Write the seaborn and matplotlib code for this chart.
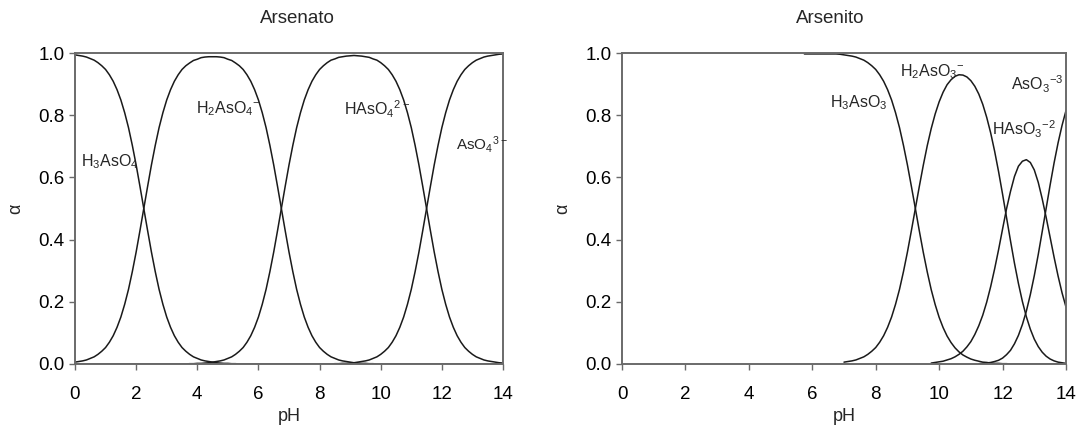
import numpy as np
import pandas as pd
import matplotlib
matplotlib.use("Agg")
import matplotlib.pyplot as plt
import seaborn as sns

nan = np.nan

# ---------------- Arsenato (pH 0..14, every 0.125) ----------------
ph_arsenato = [0.0, 0.125, 0.25, 0.375, 0.5, 0.625, 0.75, 0.875, 1.0, 1.125,
               1.25, 1.375, 1.5, 1.625, 1.75, 1.875, 2.0, 2.125, 2.25, 2.375,
               2.5, 2.625, 2.75, 2.875, 3.0, 3.125, 3.25, 3.375, 3.5, 3.625,
               3.75, 3.875, 4.0, 4.125, 4.25, 4.375, 4.5, 4.625, 4.75, 4.875,
               5.0, 5.125, 5.25, 5.375, 5.5, 5.625, 5.75, 5.875, 6.0, 6.125,
               6.25, 6.375, 6.5, 6.625, 6.75, 6.875, 7.0, 7.125, 7.25, 7.375,
               7.5, 7.625, 7.75, 7.875, 8.0, 8.125, 8.25, 8.375, 8.5, 8.625,
               8.75, 8.875, 9.0, 9.125, 9.25, 9.375, 9.5, 9.625, 9.75, 9.875,
               10.0, 10.125, 10.25, 10.375, 10.5, 10.625, 10.75, 10.875, 11.0,
               11.125, 11.25, 11.375, 11.5, 11.625, 11.75, 11.875, 12.0, 12.125,
               12.25, 12.375, 12.5, 12.625, 12.75, 12.875, 13.0, 13.125, 13.25,
               13.375, 13.5, 13.625, 13.75, 13.875, 14.0]

h3aso4 = [0.994, 0.992, 0.990, 0.987, 0.982, 0.977, 0.969, 0.959, 0.947, 0.930,
          0.909, 0.882, 0.849, 0.808, 0.760, 0.703, 0.640, 0.571, 0.500, 0.429,
          0.360, 0.297, 0.240, 0.192, 0.151, 0.118, 0.091, 0.070, 0.053, 0.041,
          0.031, 0.023, 0.018, 0.013, 0.010, 0.008, 0.006, 0.004, 0.003, 0.002,
          0.002, 0.001, 0.001] + [0.0] * 70

h2aso4 = [0.006, 0.008, 0.010, 0.013, 0.018, 0.023, 0.031, 0.041, 0.053, 0.070,
          0.091, 0.118, 0.151, 0.192, 0.240, 0.297, 0.360, 0.429, 0.500, 0.571,
          0.640, 0.703, 0.760, 0.808, 0.849, 0.882, 0.909, 0.930, 0.947, 0.959,
          0.968, 0.976, 0.980, 0.985, 0.987, 0.988, 0.988, 0.988, 0.987, 0.985,
          0.980, 0.976, 0.968, 0.959, 0.947, 0.930, 0.909, 0.882, 0.849, 0.808,
          0.760, 0.703, 0.640, 0.571, 0.500, 0.429, 0.360, 0.297, 0.240, 0.192,
          0.151, 0.118, 0.091, 0.070, 0.053, 0.041, 0.031, 0.023, 0.018, 0.013,
          0.010, 0.008, 0.006, 0.004, 0.003, 0.002, 0.002, 0.001,
          0.001] + [0.0] * 34

haso4 = [0.0] * 30 + [0.001, 0.001, 0.002, 0.002, 0.003, 0.004, 0.006, 0.008,
                      0.010, 0.013, 0.018, 0.023, 0.031, 0.041, 0.053, 0.070,
                      0.091, 0.118, 0.151, 0.192, 0.240, 0.297, 0.360, 0.429,
                      0.500, 0.571, 0.640, 0.703, 0.760, 0.808, 0.849, 0.882,
                      0.909, 0.930, 0.947, 0.959, 0.969, 0.977, 0.981, 0.986,
                      0.988, 0.990, 0.991, 0.992, 0.991, 0.990, 0.988, 0.986,
                      0.981, 0.977, 0.969, 0.959, 0.947, 0.930, 0.909, 0.882,
                      0.849, 0.808, 0.760, 0.703, 0.640, 0.571, 0.500, 0.429,
                      0.360, 0.297, 0.240, 0.192, 0.151, 0.118, 0.091, 0.070,
                      0.053, 0.041, 0.031, 0.023, 0.018, 0.013, 0.010, 0.008,
                      0.006, 0.004, 0.003]

aso4 = [0.0] * 68 + [0.001, 0.001, 0.002, 0.002, 0.003, 0.004, 0.006, 0.008,
                     0.010, 0.013, 0.018, 0.023, 0.031, 0.041, 0.053, 0.070,
                     0.091, 0.118, 0.151, 0.192, 0.240, 0.297, 0.360, 0.429,
                     0.500, 0.571, 0.640, 0.703, 0.760, 0.808, 0.849, 0.882,
                     0.909, 0.930, 0.947, 0.959, 0.969, 0.977, 0.982, 0.987,
                     0.990, 0.992, 0.994, 0.996, 0.997]

# ---------------- Arsenito (pH 5.75..14, every 0.125) ----------------
ph_arsenito = [5.75, 5.875, 6.0, 6.125, 6.25, 6.375, 6.5, 6.625, 6.75, 6.875,
               7.0, 7.125, 7.25, 7.375, 7.5, 7.625, 7.75, 7.875, 8.0, 8.125,
               8.25, 8.375, 8.5, 8.625, 8.75, 8.875, 9.0, 9.125, 9.25, 9.375,
               9.5, 9.625, 9.75, 9.875, 10.0, 10.125, 10.25, 10.375, 10.5,
               10.625, 10.75, 10.875, 11.0, 11.125, 11.25, 11.375, 11.5, 11.625,
               11.75, 11.875, 12.0, 12.125, 12.25, 12.375, 12.5, 12.625, 12.75,
               12.875, 13.0, 13.125, 13.25, 13.375, 13.5, 13.625, 13.75, 13.875,
               14.0]

h3aso3 = [0.997] * 9 + [0.996, 0.994, 0.992, 0.990, 0.987, 0.982, 0.977, 0.969,
                        0.959, 0.947, 0.930, 0.909, 0.882, 0.849, 0.808, 0.760,
                        0.703, 0.640, 0.571, 0.500, 0.428, 0.359, 0.296, 0.239,
                        0.191, 0.150, 0.117, 0.090, 0.069, 0.052, 0.039, 0.029,
                        0.022, 0.016, 0.012, 0.009, 0.006, 0.005, 0.003, 0.002,
                        0.002, 0.001, 0.001, 0.0] + [0.0] * 14

h2aso3 = [nan] * 10 + [0.006, 0.008, 0.010, 0.013, 0.018, 0.023, 0.031, 0.041,
                       0.053, 0.070, 0.091, 0.118, 0.151, 0.192, 0.240, 0.297,
                       0.360, 0.429, 0.500, 0.571, 0.639, 0.702, 0.757, 0.804,
                       0.843, 0.874, 0.898, 0.914, 0.925, 0.930, 0.929, 0.923,
                       0.911, 0.893, 0.868, 0.835, 0.793, 0.743, 0.684, 0.618,
                       0.546, 0.471, 0.396, 0.324, 0.259, 0.201, 0.152, 0.112,
                       0.080, 0.056, 0.038, 0.025, 0.016, 0.010, 0.006, 0.004,
                       0.002]

haso3 = [nan] * 32 + [0.003, 0.005, 0.007, 0.009, 0.013, 0.017, 0.023, 0.031,
                      0.041, 0.055, 0.072, 0.095, 0.123, 0.157, 0.199, 0.249,
                      0.306, 0.368, 0.434, 0.499, 0.555, 0.603, 0.636, 0.652,
                      0.657, 0.648, 0.624, 0.584, 0.531, 0.471, 0.407, 0.343,
                      0.283, 0.229, 0.183]

aso3 = [nan] * 44 + [0.001, 0.002, 0.003, 0.005, 0.008, 0.012, 0.019, 0.030,
                     0.044, 0.065, 0.092, 0.127, 0.170, 0.223, 0.284, 0.352,
                     0.426, 0.501, 0.576, 0.647, 0.711, 0.767, 0.815]

xticks = [0, 2, 4, 6, 8, 10, 12, 14]
yticks = [0.0, 0.2, 0.4, 0.6, 0.8, 1.0]
ytick_labels = ["0.0", "0.2", "0.4", "0.6", "0.8", "1.0"]

sns.set_style("ticks")
plt.rcParams["font.family"] = ["Liberation Sans", "DejaVu Sans"]
plt.rcParams["mathtext.default"] = "regular"

fig = plt.figure(figsize=(10.81, 4.25), dpi=100)
W, H = 1081, 425
ax1 = fig.add_axes([75 / W, (H - 364) / H, 428 / W, 311 / H])
ax2 = fig.add_axes([622 / W, (H - 364) / H, 444 / W, 311 / H])

spine_col = "#6a6a6a"

def style(ax, title, title_x):
    ax.set_xlim(0, 14)
    ax.set_ylim(0, 1)
    ax.set_xticks(xticks)
    ax.set_xticklabels([str(t) for t in xticks])
    ax.set_yticks(yticks)
    ax.set_yticklabels(ytick_labels)
    for s in ax.spines.values():
        s.set_visible(True)
        s.set_color(spine_col)
        s.set_linewidth(1.4)
    ax.tick_params(axis="both", direction="out", length=4.5, width=1.0,
                   color=spine_col, labelsize=13.5, labelcolor="black")
    ax.tick_params(axis="x", pad=11)
    ax.tick_params(axis="y", pad=3)
    ax.set_xlabel("pH", fontsize=13)
    ax.xaxis.set_label_coords(0.5, -0.143)
    ax.xaxis.label.set_verticalalignment("top")
    ax.set_ylabel("α", fontsize=13, labelpad=10)
    ax.text(title_x, 1.112, title, transform=ax.transAxes, ha="center",
            va="center", fontsize=13.5)
    ax.grid(False)

def draw(ax, x, y):
    df = pd.DataFrame({"pH": x, "alpha": y}).dropna()
    sns.lineplot(data=df, x="pH", y="alpha", ax=ax, color="#1a1a1a",
                 linewidth=1.1, estimator=None, sort=True)

for y in (h3aso4, h2aso4, haso4, aso4):
    draw(ax1, ph_arsenato, y)
for y in (h3aso3, h2aso3, haso3, aso3):
    draw(ax2, ph_arsenito, y)

style(ax1, "Arsenato", 0.519)
style(ax2, "Arsenito", 0.468)

lab = dict(fontsize=11.5, va="center")
ax1.text(0.18, 0.65, r"$H_3AsO_4$", ha="left", **lab)
ax1.text(5.0, 0.82, r"$H_2AsO_4{}^{-}$", ha="center", **lab)
ax1.text(9.87, 0.82, r"$HAsO_4{}^{2-}$", ha="center", **lab)
ax1.text(13.32, 0.705, r"$AsO_4{}^{3-}$", ha="center", fontsize=11,
         va="center")

ax2.text(7.46, 0.84, r"$H_3AsO_3$", ha="center", **lab)
ax2.text(9.78, 0.94, r"$H_2AsO_3{}^{-}$", ha="center", **lab)
ax2.text(13.1, 0.90, r"$AsO_3{}^{-3}$", ha="center", **lab)
ax2.text(12.68, 0.755, r"$HAsO_3{}^{-2}$", ha="center", **lab)

fig.savefig("out.png", dpi=100)
